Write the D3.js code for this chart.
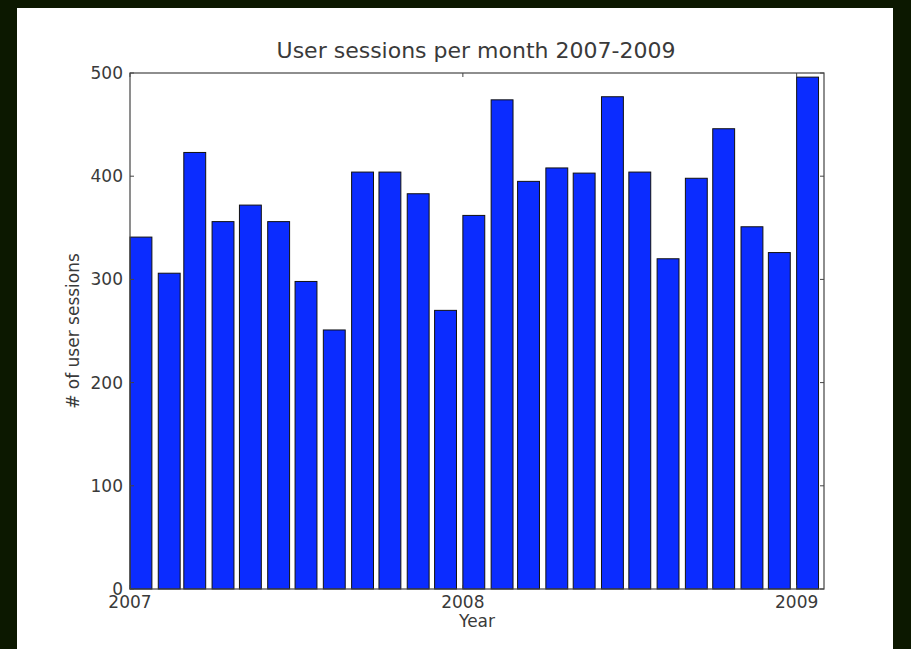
<!DOCTYPE html>
<html>
<head>
<meta charset="utf-8">
<script src="https://cdn.jsdelivr.net/npm/d3@7"></script>
<style>
body { margin:0; background:#0c1800; }
text { font-family: "DejaVu Sans", sans-serif; fill:#3a3a3a; }
</style>
</head>
<body>
<script>
// monthly user sessions, Jan 2007 .. Jan 2009
var months = ["2007-01","2007-02","2007-03","2007-04","2007-05","2007-06","2007-07","2007-08","2007-09","2007-10","2007-11","2007-12",
              "2008-01","2008-02","2008-03","2008-04","2008-05","2008-06","2008-07","2008-08","2008-09","2008-10","2008-11","2008-12",
              "2009-01"];
var sessions = [341,306,423,356,372,356,298,251,404,404,383,270,
                362,474,395,408,403,477,404,320,398,446,351,326,
                496];
var yTicks = [0,100,200,300,400,500];
var yearTicks = ["2007","2008","2009"];

var W = 911, H = 649;
// plot box (note: "top" is a reserved window prop, so prefix these)
var pLeft = 130, pRight = 824, pTop = 73, pBottom = 589;

var svg = d3.select("body").append("svg")
            .attr("width",W)
            .attr("height",H)
            .style("display","block");

svg.append("rect").attr("x",0).attr("y",0).attr("width",W).attr("height",H).style("fill","#0c1800");
svg.append("rect").attr("x",17).attr("y",8).attr("width",876).attr("height",H-8).style("fill","#ffffff");

var parseM = d3.timeParse("%Y-%m");
var parseY = d3.timeParse("%Y");

var x = d3.scaleTime()
          .domain([new Date(2007,0,1), new Date(2009,0,31)])
          .range([pLeft,pRight]);
var y = d3.scaleLinear().domain([0,500]).range([pBottom,pTop]);

// bars are 24 days wide, starting on the 1st of each month
var bars = svg.append("g");
bars.selectAll("rect").data(sessions).enter().append("rect")
    .attr("x", function(d,i){ return x(parseM(months[i])); })
    .attr("y", function(d){ return y(d); })
    .attr("width", function(d,i){ var s = parseM(months[i]); return x(d3.timeDay.offset(s,24)) - x(s); })
    .attr("height", function(d){ return y(0) - y(d); })
    .style("fill","#0b2cff")
    .style("stroke","#111")
    .style("stroke-width",1);

// frame
svg.append("rect").attr("x",pLeft).attr("y",pTop).attr("width",pRight-pLeft).attr("height",pBottom-pTop)
   .style("fill","none").style("stroke","#444").style("stroke-width",1.2);

// y ticks (inward, both sides)
var yg = svg.append("g");
yTicks.forEach(function(t){
    yg.append("line").attr("x1",pLeft).attr("x2",pLeft+4).attr("y1",y(t)).attr("y2",y(t)).style("stroke","#444");
    yg.append("line").attr("x1",pRight).attr("x2",pRight-4).attr("y1",y(t)).attr("y2",y(t)).style("stroke","#444");
    yg.append("text").text(t).attr("x",pLeft-7).attr("y",y(t)).attr("dy","0.35em")
      .attr("text-anchor","end").style("font-size","17px");
});

// x ticks at each year
var xg = svg.append("g");
yearTicks.forEach(function(t){
    var px = x(parseY(t));
    xg.append("line").attr("x1",px).attr("x2",px).attr("y1",pBottom).attr("y2",pBottom-4).style("stroke","#444");
    xg.append("line").attr("x1",px).attr("x2",px).attr("y1",pTop).attr("y2",pTop+4).style("stroke","#444");
    xg.append("text").text(t).attr("x",px).attr("y",pBottom+19)
      .attr("text-anchor","middle").style("font-size","17px");
});

svg.append("text").text("User sessions per month 2007-2009")
   .attr("x",476).attr("y",pTop-15).attr("text-anchor","middle").style("font-size","22px");
svg.append("text").text("Year")
   .attr("x",(pLeft+pRight)/2).attr("y",pBottom+38).attr("text-anchor","middle").style("font-size","17px");
svg.append("text").text("# of user sessions")
   .attr("transform","translate(79,"+((pTop+pBottom)/2)+") rotate(-90)")
   .attr("text-anchor","middle").style("font-size","17px");
</script>
</body>
</html>
